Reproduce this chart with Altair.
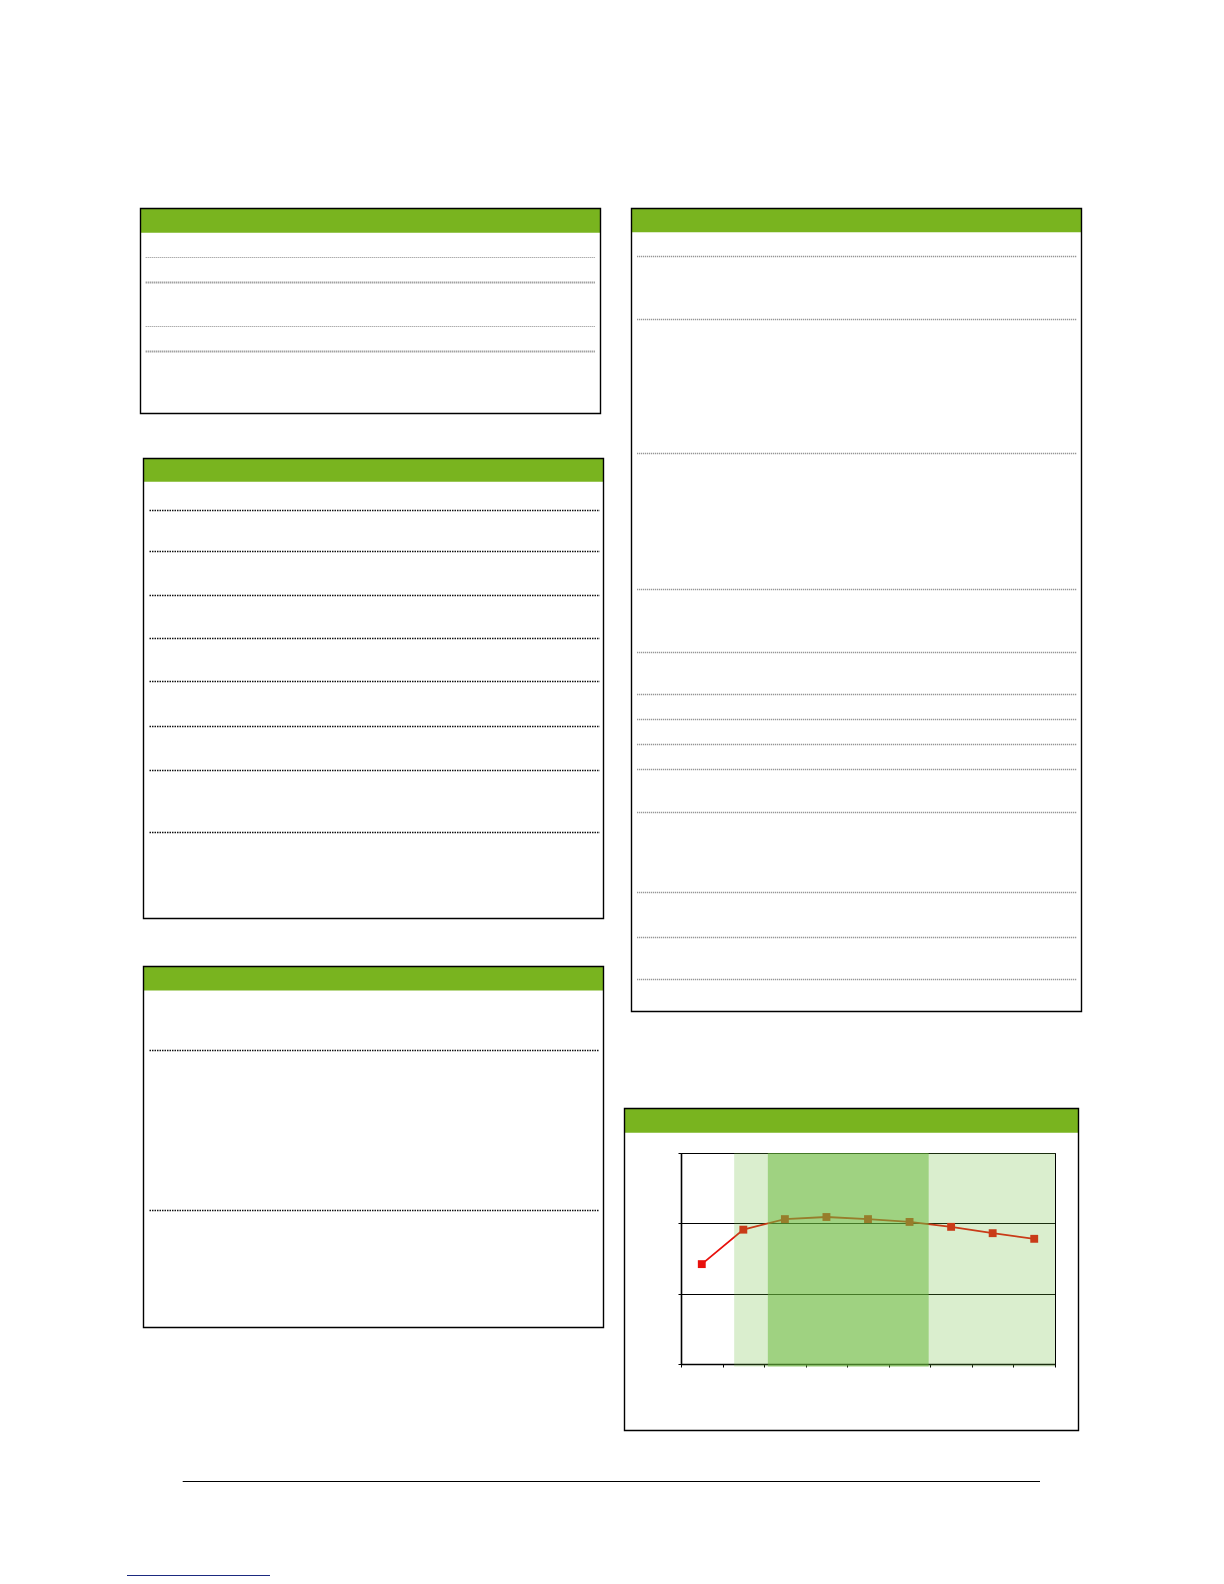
import math
import altair as alt
import pandas as pd

# ---------------- data ----------------
categories = ["1", "2", "3", "4", "5", "6", "7", "8", "9"]
values = [14.2, 19.1, 20.6, 20.9, 20.6, 20.2, 19.5, 18.6, 17.8]
band_kind = ["light", "dark"]
band_start = [1.28, 2.09]
band_end = [9.0, 5.96]
y_ticks = [0, 10, 20, 30]

df = pd.DataFrame({
    "category": categories,
    "pos": [i + 0.5 for i in range(len(categories))],
    "value": values,
})
bands = pd.DataFrame({"kind": band_kind, "start": band_start, "end": band_end})

# ---------------- page layout (pixels on the page) ----------------
X0, Y0 = 681, 1153          # top-left of the plot area on the page
PLOT_W, PLOT_H = 374, 211
GREEN = "#79b41f"
RED = "#e8100c"


def rx(x):
    return round(x - X0, 1)


def ry(y):
    return round(y - Y0, 1)


def snap(v):
    return math.floor(v) + 0.5


one = alt.Data(values=[{"k": 0}])


def rule(x1, x2, y, color, width, dash=None):
    kw = dict(color=color, strokeWidth=width)
    if dash:
        kw["strokeDash"] = dash
    return alt.Chart(one).mark_rule(**kw).encode(
        x=alt.value(rx(x1)), x2=alt.value(rx(x2)), y=alt.value(ry(snap(y))))


def box(x1, y1, x2, y2, hb):
    header = alt.Chart(one).mark_rect(color=GREEN).encode(
        x=alt.value(rx(x1)), x2=alt.value(rx(x2)),
        y=alt.value(ry(y1)), y2=alt.value(ry(hb)))
    border = alt.Chart(one).mark_rect(fillOpacity=0, stroke="black", strokeWidth=1.4).encode(
        x=alt.value(rx(x1)), x2=alt.value(rx(x2)),
        y=alt.value(ry(y1)), y2=alt.value(ry(y2)))
    return [header, border]


decor = []
boxes = [
    (140.5, 208.5, 600.5, 413.5, 232.7),
    (143.5, 458.5, 603.5, 918.5, 481.7),
    (143.5, 966.5, 603.5, 1327.5, 990.6),
    (631.5, 208.5, 1081.5, 1011.5, 232.3),
    (624.5, 1108.5, 1078.5, 1430.5, 1132.7),
]
for b in boxes:
    decor += box(*b)

# box 1 separators (alternating thin / thick grey dotted)
for y, thick in [(257.7, False), (282.7, True), (326.2, False), (351.4, True)]:
    if thick:
        decor.append(rule(145.7, 594.8, y, "#7a7a7a", 2.0, [1, 1]))
    else:
        decor.append(rule(145.7, 594.8, y, "#8a8a8a", 1.0, [1, 1]))
# box 2 separators
for y in [510, 551.4, 595.8, 638.2, 681.6, 726, 770.5, 832]:
    decor.append(rule(149.5, 599.8, y, "#111111", 1.5, [1.5, 1]))
# box 3 separators
for y in [1050.2, 1210.8]:
    decor.append(rule(149.5, 598.8, y, "#111111", 1.5, [1.5, 1]))
# box 4 separators
for y in [256.5, 319.1, 453.4, 589.7, 652.3, 694.7, 719, 744.2, 769.5,
          812.9, 892.7, 937.1, 979.4]:
    decor.append(rule(637.2, 1077.0, y, "#7c7c7c", 1.5, [1, 1]))
# footer line and link underline
decor.append(rule(182.7, 1040.0, 1481.0, "black", 1.2))
decor.append(rule(127.0, 270.0, 1575.0, "#1b2a80", 1.2))

# ---------------- the line chart ----------------
x_enc = alt.X("pos:Q",
              scale=alt.Scale(domain=[0, len(categories)], nice=False, zero=False),
              axis=alt.Axis(values=list(range(len(categories) + 1)), labels=False, title=None,
                            grid=False, ticks=True, tickSize=3, tickColor="black",
                            tickWidth=1, domainColor="black", domainWidth=1.6))
y_enc = alt.Y("value:Q",
              scale=alt.Scale(domain=[y_ticks[0], y_ticks[-1]], nice=False),
              axis=alt.Axis(values=y_ticks, labels=False, title=None, grid=True,
                            gridColor="black", gridWidth=1, ticks=True, tickSize=3,
                            tickColor="black", domainColor="black", domainWidth=1.6))

line = alt.Chart(df).mark_line(color=RED, strokeWidth=1.8).encode(x=x_enc, y=y_enc)
pts = alt.Chart(df).mark_point(shape="square", filled=True, size=62, color=RED,
                               opacity=1).encode(x="pos:Q", y="value:Q")
shade = alt.Chart(bands).mark_rect(color="#6aba3c").encode(
    x="start:Q", x2="end:Q",
    y=alt.value(0), y2=alt.value(PLOT_H + 2.5),
    opacity=alt.Opacity("kind:N", scale=alt.Scale(domain=["light", "dark"], range=[0.25, 0.53]),
                        legend=None))

chart = alt.layer(*decor, line, pts, shade).properties(
    width=PLOT_W, height=PLOT_H,
    autosize=alt.AutoSizeParams(type="none"),
    padding={"left": X0 - 8, "top": Y0 - 8,
             "right": 1200 - (X0 - 8) - PLOT_W, "bottom": 1568 - (Y0 - 8) - PLOT_H},
).configure_view(stroke="black", strokeWidth=1)

chart.save("out.html", embed_options={"renderer": "svg", "actions": False})
